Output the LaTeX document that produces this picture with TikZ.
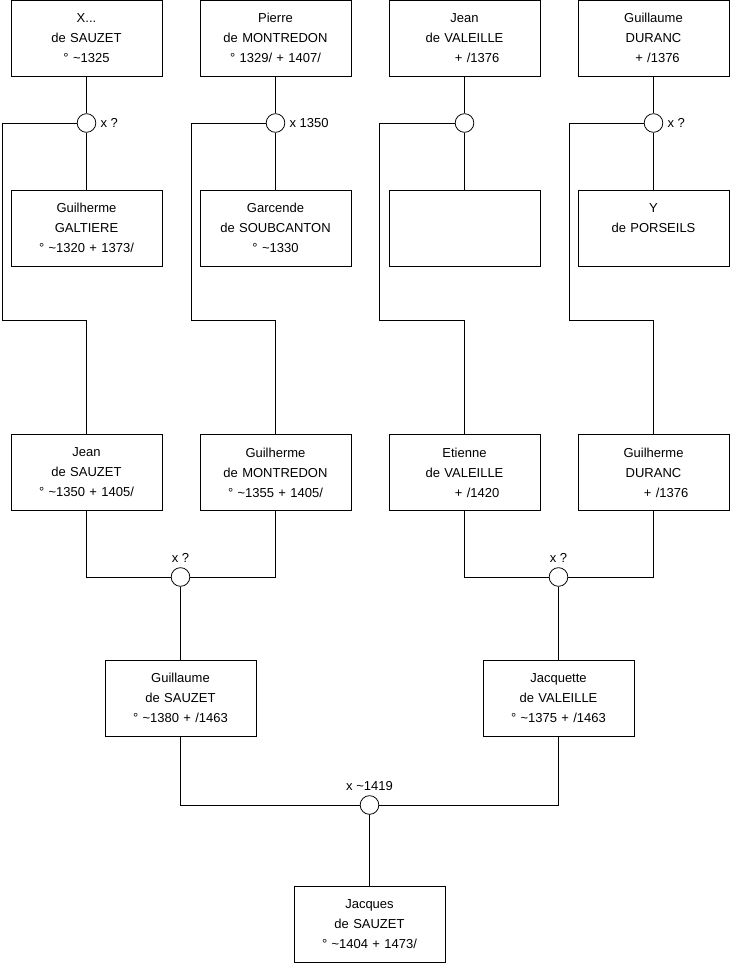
\documentclass[tikz,border=0pt]{standalone}
\usepackage{fontspec}
\setmainfont{Liberation Sans}
\usetikzlibrary{positioning}
\begin{document}
\begin{tikzpicture}[x=0.75pt,y=-0.75pt,font=\fontsize{9.75}{15}\selectfont,
  node distance=85.5pt and 28.5pt,line width=0.6pt,
  pers/.style={draw,align=center,text width=109.25pt,minimum width=113.25pt,minimum height=57pt,inner sep=2pt,outer sep=0pt},
  wed/.style={draw,circle,fill=white,minimum size=14pt,inner sep=0pt},
  lbl/.style={inner sep=1pt}]
\useasboundingbox (0,0) rectangle (740,975);
% grands-parents
\node[pers] (xsauzet) at (86.5,38) {X...\\de SAUZET\\° \textasciitilde1325};
\node[pers,right=of xsauzet] (pmontredon) {Pierre\\de MONTREDON\\° 1329/ + 1407/};
\node[pers,right=of pmontredon] (jvaleille) {Jean\\de VALEILLE\\\hspace*{19pt}+ /1376};
\node[pers,right=of jvaleille] (gdaranc) {Guillaume\\DURANC\\\hspace*{6pt}+ /1376};
\node[pers,below=of xsauzet] (ggaltiere) {Guilherme\\GALTIERE\\° \textasciitilde1320 + 1373/};
\node[pers,right=of ggaltiere] (gsoubcanton) {Garcende\\de SOUBCANTON\\° \textasciitilde1330};
\node[pers,right=of gsoubcanton] (inconnue) {};
\node[pers,right=of inconnue] (yporseils) {Y\\de PORSEILS\\\mbox{}};
% parents
\node[pers] (jsauzet) at (86.5,472.5) {Jean\\de SAUZET\\° \textasciitilde1350 + 1405/};
\node[pers,right=of jsauzet] (gmontredon) {Guilherme\\de MONTREDON\\° \textasciitilde1355 + 1405/};
\node[pers,right=of gmontredon] (evaleille) {Etienne\\de VALEILLE\\\hspace*{19pt}+ /1420};
\node[pers,right=of evaleille] (gduranc) {Guilherme\\DURANC\\\hspace*{19pt}+ /1376};
\node[pers] (gsauzet) at (180.5,698) {Guillaume\\de SAUZET\\° \textasciitilde1380 + /1463};
\node[pers] (jqvaleille) at (558.5,698) {Jacquette\\de VALEILLE\\° \textasciitilde1375 + /1463};
\node[pers] (jcsauzet) at (369.5,924) {Jacques\\de SAUZET\\° \textasciitilde1404 + 1473/};
% mariages
\node[wed] (m1) at (86.5,123) {};
\node[wed] (m2) at (275.5,123) {};
\node[wed] (m3) at (464.5,123) {};
\node[wed] (m4) at (653.5,123) {};
\node[wed] (m5) at (180.5,577) {};
\node[wed] (m6) at (558.5,577) {};
\node[wed] (m7) at (369.5,805) {};
\node[lbl,right=2pt of m1] (d1) {x ?};
\node[lbl,right=2pt of m2] (d2) {x 1350};
\node[lbl,right=2pt of m4] (d4) {x ?};
\node[lbl,above=2pt of m5] (d5) {x ?};
\node[lbl,above=2pt of m6] (d6) {x ?};
\node[lbl,above=2pt of m7] (d7) {x \textasciitilde1419};
\coordinate (k1) at (2,320); \coordinate (k2) at (191,320);
\coordinate (k3) at (379,320); \coordinate (k4) at (569,320);
\draw (xsauzet)--(m1)--(ggaltiere); \draw (pmontredon)--(m2)--(gsoubcanton);
\draw (jvaleille)--(m3)--(inconnue); \draw (gdaranc)--(m4)--(yporseils);
\draw (m1) -| (k1) -| (jsauzet); \draw (m2) -| (k2) -| (gmontredon);
\draw (m3) -| (k3) -| (evaleille); \draw (m4) -| (k4) -| (gduranc);
\draw (jsauzet) |- (m5); \draw (gmontredon) |- (m5); \draw (m5)--(gsauzet);
\draw (evaleille) |- (m6); \draw (gduranc) |- (m6); \draw (m6)--(jqvaleille);
\draw (gsauzet) |- (m7); \draw (jqvaleille) |- (m7); \draw (m7)--(jcsauzet);
\end{tikzpicture}
\end{document}
